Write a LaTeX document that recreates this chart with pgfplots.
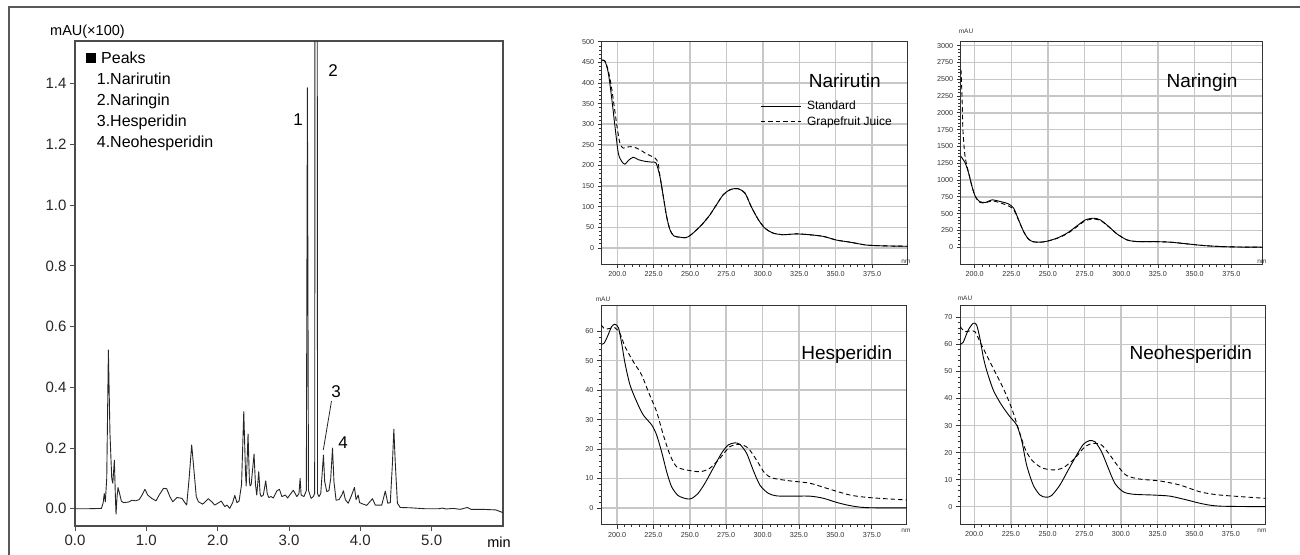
\documentclass[border=0pt]{standalone}
\usepackage{fontspec}
\setmainfont{Liberation Sans}
\usepackage{pgfplots}
\pgfplotsset{compat=1.18}
\pgfkeys{/pgf/number format/assume math mode=true, /pgf/number format/1000 sep={}}
\pgfplotsset{
 spec/.style={
  scale only axis, anchor=north west,
  axis line style={draw=black!80, line width=0.9bp},
  grid=major, major grid style={draw=black!22, line width=1.4bp},
  tick align=outside, xtick pos=bottom, ytick pos=left,
  xtick={200,225,250,275,300,325,350,375},
  minor x tick num=4, minor y tick num=4,
  major tick length=4bp, minor tick length=2.5bp,
  major tick style={black!80, line width=0.8bp},
  minor tick style={black!80, line width=0.6bp},
  tick label style={font=\fontsize{7.2bp}{8bp}\selectfont, black!80},
  xticklabel style={/pgf/number format/.cd, fixed, fixed zerofill, precision=1, 1000 sep={}},
  yticklabel style={/pgf/number format/.cd, fixed, 1000 sep={}},
 },
 std/.style={black, line width=0.9bp, line join=round, smooth, tension=0.45},
 gfj/.style={black, line width=0.9bp, dash pattern=on 4.5bp off 3bp, line join=round, smooth, tension=0.45},
}
\begin{document}
\begin{tikzpicture}
\path[use as bounding box] (0,0) rectangle (1300bp,-555bp);
\draw[black!65, line width=1.2bp] (9bp,-555bp) -- (9bp,-7bp) -- (1300bp,-7bp);

% ---------------- Chromatogram ----------------
\begin{axis}[
 at={(75bp,-526bp)}, anchor=south west, scale only axis, width=428bp, height=485bp,
 xmin=0, xmax=6, ymin=-0.057, ymax=1.541,
 axis line style={draw=black!70, line width=1.2bp},
 tick align=outside, xtick pos=bottom, ytick pos=left,
 xtick={0,1,2,3,4,5}, ytick={0,0.2,0.4,0.6,0.8,1.0,1.2,1.4},
 major tick length=5bp, major tick style={black!70, line width=1bp},
 tick label style={font=\fontsize{15bp}{17bp}\selectfont, black!85},
 xticklabel style={/pgf/number format/.cd, fixed, fixed zerofill, precision=1},
 yticklabel style={/pgf/number format/.cd, fixed, fixed zerofill, precision=1},
]
\addplot[black!85, line width=0.9bp, line join=round] coordinates {
(0,0) (0.2,0.0) (0.37,0.001) (0.395,0.02) (0.41,0.05) (0.425,0.023) (0.445,0.1)
(0.468,0.523) (0.49,0.25) (0.515,0.1) (0.53,0.084) (0.552,0.16) (0.565,0.05)
(0.575,-0.018) (0.59,0.04) (0.603,0.07) (0.625,0.05) (0.65,0.025) (0.68,0.02)
(0.75,0.022) (0.8,0.028) (0.85,0.026) (0.9,0.03) (0.94,0.045) (0.98,0.064)
(1.02,0.045) (1.075,0.034) (1.136,0.026) (1.18,0.045) (1.24,0.067) (1.285,0.066)
(1.33,0.04) (1.37,0.023) (1.43,0.037) (1.5,0.034) (1.54,0.02) (1.566,0.012)
(1.6,0.1) (1.636,0.21) (1.67,0.12) (1.7,0.04) (1.73,0.023) (1.79,0.015)
(1.87,0.033) (1.92,0.022) (1.96,0.012) (2.05,0.025) (2.1,0.007) (2.13,0.012)
(2.17,0.001) (2.21,0.02) (2.24,0.044) (2.27,0.02) (2.30,0.025) (2.335,0.08)
(2.366,0.32) (2.39,0.12) (2.40,0.075) (2.426,0.246) (2.445,0.09) (2.454,0.075)
(2.47,0.08) (2.51,0.18) (2.53,0.08) (2.548,0.045) (2.576,0.122) (2.595,0.05)
(2.61,0.04) (2.64,0.045) (2.674,0.092) (2.695,0.05) (2.716,0.037) (2.75,0.04)
(2.78,0.035) (2.83,0.059) (2.866,0.064) (2.9,0.04) (2.95,0.045) (2.98,0.035)
(3.06,0.061) (3.11,0.04) (3.14,0.05) (3.156,0.1) (3.17,0.045) (3.21,0.04)
(3.243,0.06) (3.258,1.387) (3.273,0.06) (3.31,0.034) (3.34,0.04) (3.36,0.05)
(3.38,8) (3.40,0.05) (3.42,0.04) (3.445,0.05) (3.46,0.1) (3.483,0.177)
(3.50,0.09) (3.53,0.056) (3.56,0.06) (3.585,0.1) (3.61,0.2) (3.63,0.09)
(3.66,0.028) (3.70,0.03) (3.74,0.045) (3.763,0.059) (3.79,0.03) (3.83,0.018)
(3.87,0.04) (3.918,0.07) (3.94,0.03) (3.97,0.045) (3.99,0.02) (4.04,0.015)
(4.09,0.011) (4.17,0.033) (4.21,0.012) (4.3,0.012) (4.35,0.058) (4.385,0.018)
(4.42,0.02) (4.45,0.15) (4.47,0.262) (4.49,0.15) (4.52,0.018) (4.56,0.004)
(4.7,0.003) (4.9,0.0) (5.1,0.0) (5.15,0.002) (5.2,-0.001) (5.3,0.001)
(5.4,-0.002) (5.5,0.004) (5.55,-0.002) (5.7,-0.002) (5.9,-0.004) (6.0,-0.013)
};
\end{axis}

% ---------------- Narirutin ----------------
\begin{axis}[spec, at={(601.7bp,-41.7bp)}, width=306bp, height=222.3bp,
 xmin=189.3, xmax=399.5, ymin=-39, ymax=500, ytick={0,50,...,500},
 legend style={at={(rel axis cs:0.517,0.738)}, anchor=north west, draw=none, fill=none,
  inner sep=0pt, row sep=3.5bp, column sep=5bp, font=\fontsize{12bp}{13bp}\selectfont,
  nodes={inner sep=1bp}},
 legend cell align=left,
 legend image code/.code={\draw[#1] (0bp,0bp) -- (40bp,0bp);},
]
\addplot[std] coordinates {
(189.3,455) (191.5,453) (193.8,425) (196,368) (198.4,295) (200.7,230) (203,210)
(205.3,203) (207.6,212) (211,220) (214.4,214) (219,210) (223.6,208) (226.6,206)
(229.3,173) (231.6,125) (233.9,76) (236.2,44) (238.9,29) (243,26) (247,25)
(250,30) (254.5,44) (259,60) (263.6,80) (268.2,105) (272.8,129) (277.4,141)
(282.5,144) (287.7,133) (292,100) (297,68) (301.4,48) (307,36) (314,32)
(323,34) (332,32) (341.5,28) (350.6,19) (359.8,14) (371,7) (382.7,5) (399.5,4)
};
\addlegendentry{Standard}
\addplot[gfj] coordinates {
(189.3,455) (191.5,453) (193.8,430) (196,390) (198.4,330) (200,290) (201.8,254)
(204,242) (207.5,245) (211,245) (215.6,238) (220,228) (225.9,218) (228,206)
(229.3,175) (231.6,125) (233.9,76) (236.2,44) (238.9,29) (243,26) (247,25)
(250,30) (254.5,44) (259,60) (263.6,80) (268.2,105) (272.8,129) (277.4,141)
(282.5,144) (287.7,133) (292,100) (297,68) (301.4,48) (307,36) (314,32)
(323,34) (332,32) (341.5,28) (350.6,19) (359.8,14) (371,7) (382.7,5) (399.5,4)
};
\addlegendentry{Grapefruit Juice}
\end{axis}

% ---------------- Naringin ----------------
\begin{axis}[spec, at={(960.7bp,-41.7bp)}, width=301.8bp, height=222.3bp,
 xmin=190.5, xmax=396.3, ymin=-250, ymax=3060, ytick={0,250,...,3000}]
\addplot[std] coordinates {
(190.7,1351) (193.6,1252) (195.9,1103) (198.2,904) (200.5,755) (203.4,680)
(207.3,666) (211.8,705) (217.5,680) (223,646) (226.6,581) (230,407) (233.4,233)
(236.8,119) (240.2,80) (244.8,75) (249.3,89) (256,134) (263,209) (269.8,318)
(275.5,407) (281,432) (285.7,407) (291.4,308) (297,199) (303.9,109) (310.7,84)
(322,84) (333.4,75) (344.8,50) (356,25) (367.5,10) (380,3) (396.3,0)
};
\addplot[gfj] coordinates {
(190.7,2642) (191.4,2245) (192,1748) (193.2,1400) (194.3,1252) (196,1100)
(198.2,904) (200.5,750) (203.4,670) (207.3,660) (211.8,690) (217.5,660)
(223,616) (226.6,560) (230,400) (233.4,233) (236.8,119) (240.2,80) (244.8,75)
(249.3,89) (256,130) (263,200) (269.8,305) (275.5,395) (281,418) (285.7,400)
(291.4,305) (297,199) (303.9,109) (310.7,84) (322,84) (333.4,75) (344.8,50)
(356,25) (367.5,10) (380,3) (396.3,0)
};
\end{axis}

% ---------------- Hesperidin ----------------
\begin{axis}[spec, at={(601bp,-305.7bp)}, width=305.7bp, height=219bp,
 xmin=189, xmax=399, ymin=-5.7, ymax=68.7, ytick={0,10,...,60}]
\addplot[std] coordinates {
(189,55.6) (191,55.9) (193.4,58.2) (196.3,61.6) (198.6,62.4) (201,61.2)
(203.2,55.9) (205.5,49.1) (208.9,41.8) (213.5,36.1) (218,31.6) (223.8,28.2)
(227.2,24.8) (230.6,19.1) (234.1,12.3) (237.5,7.2) (242,4.2) (247.8,3.1)
(251.2,3.2) (255.8,5) (260.4,8.4) (266.1,13.5) (271.8,18.6) (276.4,21.4)
(281,22.1) (284.4,21.6) (289,18.6) (293.5,12.9) (298.1,7.8) (303.8,5)
(309.5,4.1) (318.7,4) (332.4,4) (341.6,3.3) (350.7,1.9) (359.9,0.8)
(371.3,0.1) (399,0)
};
\addplot[gfj] coordinates {
(189,62.2) (191.8,60.8) (195.2,61) (198.6,61.2) (202,59.3) (205.5,54.8)
(211.2,49.7) (216.9,45.2) (221.5,39.5) (227.2,32.7) (231.8,24.8) (236.4,18)
(240.9,14) (247.8,12.9) (257,12.3) (263.8,13.5) (270.7,16.9) (277.5,20.8)
(284.4,21.6) (290.1,20.3) (295.8,16.3) (301.5,11.8) (307.2,10.1) (318.7,9.2)
(332.4,8.4) (343.9,6.7) (359.9,4.4) (373.6,3.5) (399,2.7)
};
\end{axis}

% ---------------- Neohesperidin ----------------
\begin{axis}[spec, at={(960bp,-305.7bp)}, width=305bp, height=218.3bp,
 xmin=190.3, xmax=398.2, ymin=-6.4, ymax=74.3, ytick={0,10,...,70}]
\addplot[std] coordinates {
(190.3,60) (192.5,60.8) (195.9,65.3) (199.3,67.8) (201.6,67.2) (203.9,62.2)
(206.1,55.5) (208.4,50.5) (213,43.1) (218.6,37.6) (224.3,33.3) (228.9,30.2)
(232.3,24.6) (235.7,15.4) (240.2,8) (244.8,4.3) (248.9,3.5) (252.7,4.1)
(258.4,8) (264.1,13.6) (269.8,19.1) (274.3,23) (278.4,24.4) (282.3,24)
(286.8,20.3) (291.4,14.2) (295.9,8.6) (301.6,5.5) (308.4,4.6) (322,4.3)
(333.4,3.9) (344.8,2.5) (356.1,1) (367.5,0.2) (398.2,0)
};
\addplot[gfj] coordinates {
(190.3,66.6) (193.6,64.7) (197,65) (200.5,64.7) (203.9,61) (208.4,56.1)
(214.1,49.9) (219.8,43.8) (225.5,36.4) (230,29) (234.5,21.6) (239.1,17.3)
(245.9,14.4) (253.9,13.6) (260.7,14.4) (268.6,17.9) (275.5,22.2) (281.1,23.4)
(286.8,22.8) (292.5,19.1) (298.2,14.8) (303.9,11.5) (313,10.2) (326.6,9.5)
(340.2,8) (353.9,5.5) (367.5,4.3) (398.2,3.1)
};
\end{axis}

% ---------------- Texts (pixel coordinates) ----------------
\begin{scope}[x=1bp, y=-1bp]
\node[anchor=base west, inner sep=0pt, font=\fontsize{14.5bp}{16bp}\selectfont] at (50,35) {mAU(×100)};
\node[anchor=base, inner sep=0pt, font=\fontsize{14.5bp}{16bp}\selectfont] at (499,547.7) {min};
\begin{scope}[every node/.style={anchor=base west, inner sep=0pt, font=\fontsize{16bp}{18bp}\selectfont}]
\node at (86,63.3) {\rule{10bp}{10bp}\hspace{5bp}Peaks};
\node at (96.7,84) {1.Narirutin};
\node at (96.7,105) {2.Naringin};
\node at (96.7,126.5) {3.Hesperidin};
\node at (96.7,147.7) {4.Neohesperidin};
\end{scope}
\begin{scope}[every node/.style={anchor=base, inner sep=0pt, font=\fontsize{17bp}{19bp}\selectfont}]
\node at (298,125) {1};
\node at (333,76) {2};
\node at (336,397) {3};
\node at (343,448) {4};
\end{scope}
\draw[black!85, line width=0.8bp] (331.5,401) -- (323.3,450);
\begin{scope}[every node/.style={anchor=base, inner sep=0pt, font=\fontsize{19bp}{21bp}\selectfont}]
\node at (844.7,87.3) {Narirutin};
\node at (1202,87.3) {Naringin};
\node at (846.7,359) {Hesperidin};
\node at (1190.8,359) {Neohesperidin};
\end{scope}
\begin{scope}[every node/.style={anchor=center, inner sep=0pt, font=\fontsize{6.5bp}{7bp}\selectfont, text=black!80}]
\node at (906,262) {nm};
\node at (1262,262) {nm};
\node at (906,531) {nm};
\node at (1262,531) {nm};
\node at (966,31) {mAU};
\node at (603,299) {mAU};
\node at (965,298) {mAU};
\end{scope}
\end{scope}
\end{tikzpicture}
\end{document}
